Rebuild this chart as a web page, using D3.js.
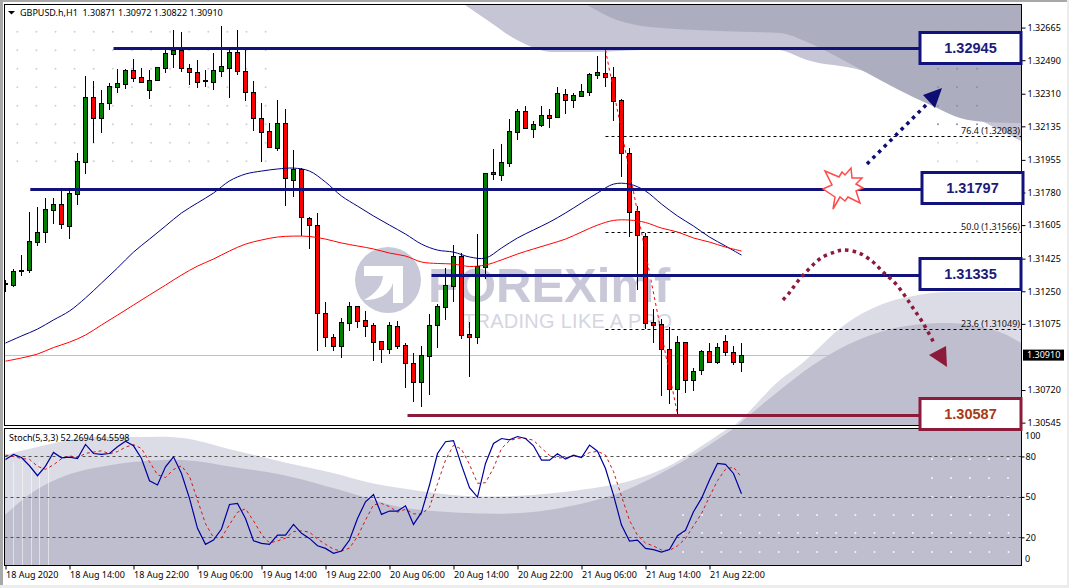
<!DOCTYPE html>
<html>
<head>
<meta charset="utf-8">
<title>GBPUSD H1</title>
<script src="https://cdnjs.cloudflare.com/ajax/libs/d3/7.8.5/d3.min.js"></script>
<style>
  html, body { margin: 0; padding: 0; background: #fff; overflow: hidden; }
  svg { display: block; }
  text { font-family: "Noto Sans", "Liberation Sans", Arial, sans-serif; }
  .wm, .box { font-family: "Liberation Sans", Arial, sans-serif; }
  .pre { white-space: pre; }
</style>
</head>
<body>
<div id="chart"></div>
<script>
// Candle values, one entry per hourly bar
const opens = [1.31287,1.31283,1.31357,1.31362,1.31516,1.31566,1.31688,1.31716,1.31602,1.31774,1.31945,1.32291,1.32178,1.32258,1.32348,1.32364,1.32436,1.32398,1.32332,1.32382,1.32450,1.32525,1.32546,1.32446,1.32425,1.32382,1.32375,1.32434,1.32450,1.32532,1.32430,1.32317,1.32178,1.32108,1.32020,1.32151,1.31849,1.31908,1.31641,1.31604,
  1.31135,1.31003,1.30958,1.31081,1.31169,1.31094,1.31067,1.30981,1.30942,1.31062,1.30960,1.30863,1.30765,1.30904,1.31067,1.31167,1.31280,1.31437,1.31019,1.31006,1.31382,1.31888,1.31876,1.31940,1.32106,1.32215,1.32122,1.32144,1.32194,1.32187,1.32307,1.32278,1.32300,1.32321,1.32412,1.32419,1.32401,1.32274,1.31994,1.31679,
  1.31548,1.31083,1.31072,1.30938,1.30723,1.30976,1.30772,1.30825,1.30927,1.30868,1.30981,1.30922,1.30871];
const highs = [1.31307,1.31367,1.31444,1.31675,1.31702,1.31748,1.31748,1.31797,1.31788,1.31990,1.32405,1.32378,1.32325,1.32366,1.32441,1.32441,1.32495,1.32446,1.32437,1.32452,1.32545,1.32647,1.32636,1.32468,1.32486,1.32437,1.32527,1.32673,1.32541,1.32647,1.32545,1.32373,1.32255,1.32151,1.32271,1.32228,1.32008,1.31908,1.31647,1.31668,
  1.31190,1.31020,1.31106,1.31187,1.31169,1.31142,1.31079,1.30981,1.31083,1.31088,1.30967,1.30917,1.30956,1.31126,1.31180,1.31373,1.31493,1.31453,1.31083,1.31552,1.31883,1.32013,1.32035,1.32172,1.32223,1.32244,1.32162,1.32239,1.32223,1.32344,1.32335,1.32312,1.32357,1.32419,1.32509,1.32545,1.32452,1.32280,1.32017,1.31704,
  1.31561,1.31153,1.31099,1.31058,1.31008,1.30976,1.30833,1.30934,1.30967,1.30967,1.31010,1.30954,1.30972];
const lows = [1.31248,1.31278,1.31332,1.31350,1.31494,1.31511,1.31611,1.31586,1.31532,1.31715,1.31881,1.32046,1.32101,1.32224,1.32319,1.32337,1.32373,1.32368,1.32287,1.32380,1.32423,1.32450,1.32427,1.32357,1.32341,1.32348,1.32335,1.32403,1.32289,1.32412,1.32276,1.32115,1.31944,1.32022,1.32008,1.31709,1.31761,1.31550,1.31482,1.30934,
  1.30951,1.30931,1.30897,1.31042,1.31053,1.31006,1.30877,1.30870,1.30917,1.30945,1.30731,1.30661,1.30634,1.30698,1.30947,1.31101,1.31194,1.30999,1.30790,1.30968,1.31319,1.31852,1.31847,1.31922,1.32065,1.32126,1.32074,1.32133,1.32128,1.32185,1.32206,1.32237,1.32298,1.32303,1.32394,1.32348,1.32165,1.31868,1.31546,1.31257,
  1.31051,1.30974,1.30690,1.30648,1.30589,1.30706,1.30716,1.30804,1.30868,1.30863,1.30904,1.30856,1.30822];
const closes = [1.31292,1.31357,1.31364,1.31518,1.31566,1.31690,1.31716,1.31609,1.31775,1.31947,1.32291,1.32178,1.32258,1.32350,1.32366,1.32436,1.32396,1.32375,1.32382,1.32452,1.32527,1.32546,1.32446,1.32425,1.32375,1.32376,1.32436,1.32457,1.32532,1.32430,1.32317,1.32178,1.32106,1.32026,1.32151,1.31856,1.31908,1.31647,1.31607,1.31135,
  1.31006,1.30958,1.31083,1.31169,1.31092,1.31065,1.30979,1.30942,1.31067,1.30958,1.30863,1.30765,1.30906,1.31067,1.31169,1.31282,1.31437,1.31017,1.31006,1.31385,1.31883,1.31877,1.31942,1.32108,1.32215,1.32128,1.32146,1.32194,1.32181,1.32312,1.32278,1.32301,1.32323,1.32414,1.32425,1.32401,1.32273,1.31994,1.31677,1.31553,
  1.31081,1.31070,1.30938,1.30723,1.30976,1.30772,1.30820,1.30927,1.30868,1.30949,1.30922,1.30868,1.30910];

// Moving averages, read every second bar
const maBars = [0,2,4,6,8,10,12,14,16,18,20,22,24,26,28,30,32,34,36,38,40,42,44,46,48,50,52,54,56,58,60,62,64,66,68,70,72,74,76,78,80,82,84,86,88,90,92];
const maBlue = [1.30972,1.31010,1.31047,1.31096,1.31144,1.31214,1.31294,1.31375,1.31460,1.31530,1.31600,1.31670,1.31724,1.31777,1.31842,1.31879,1.31895,1.31906,1.31911,1.31895,1.31836,1.31761,1.31707,1.31654,1.31605,1.31557,1.31503,1.31471,1.31460,1.31434,1.31428,1.31482,1.31536,1.31579,1.31621,1.31670,1.31724,1.31777,1.31825,1.31825,1.31788,1.31718,1.31654,1.31600,1.31541,1.31493,1.31444];
const maRed = [1.30875,1.30892,1.30913,1.30948,1.30977,1.31015,1.31069,1.31122,1.31176,1.31230,1.31283,1.31337,1.31385,1.31423,1.31466,1.31503,1.31525,1.31541,1.31546,1.31544,1.31530,1.31509,1.31493,1.31477,1.31455,1.31439,1.31407,1.31399,1.31396,1.31383,1.31391,1.31418,1.31450,1.31477,1.31503,1.31530,1.31568,1.31605,1.31630,1.31632,1.31619,1.31589,1.31568,1.31536,1.31514,1.31487,1.31466];

// Stochastic lines
const stochK = [77.8,81.5,79.2,73.1,65.7,72.8,83,79,79.5,78.5,88.9,82.2,81.5,82.2,87.2,91.3,87.9,78.5,62,58.8,72.3,79.7,67.4,48.9,26.7,14.8,18,26.2,44.4,45.2,34,17.5,15.5,14.8,21.7,21.7,29.6,23,19.2,13.8,11.8,8.1,9.9,18,34,46.4,51.8,37,39.5,39.5,
  43.4,29.6,38.5,58.8,82.2,90.9,91.8,73.6,56.8,49.9,74.8,89.6,93.3,92.3,94.8,93.3,87.9,77.3,77.3,82,78,81,79.2,88.4,83.9,71.1,51.3,29.1,17.3,18,11.8,10.9,9.1,10.9,21.2,25.2,39,48.9,62.5,74.8,74.1,67.4,52.27];
const stochD = [81,80,78.5,77.9,72.7,70.5,73.8,78.3,80.5,79,82.3,83.2,84.2,82,83.6,86.9,88.8,85.9,76.1,66.4,64.4,70.3,73.1,65.3,47.7,30.1,19.8,19.7,29.5,38.6,41.2,32.2,22.3,15.9,17.3,19.4,24.3,24.8,23.9,18.7,14.9,11.2,9.9,12,20.6,32.8,44.1,45.1,42.8,38.7,
  40.8,37.5,37.2,42.3,59.8,77.3,88.3,85.4,74.1,60.1,60.5,71.4,85.9,91.7,93.5,93.5,92,86.2,80.8,78.9,79.1,80.3,79.4,82.9,83.8,81.1,68.8,50.5,32.6,21.5,15.7,13.6,10.6,10.3,13.7,19.1,28.5,37.7,50.1,62.1,70.5,72.1,64.56];

// Axis labels
const priceTicks = [1.32665,1.32490,1.32310,1.32135,1.31955,1.31780,1.31605,1.31425,1.31250,1.31075,1.30720,1.30545];
const timeTickBars = [0,8,16,24,32,40,48,56,64,72,80,88];
const timeLabels = ['18 Aug 2020','18 Aug 14:00','18 Aug 22:00','19 Aug 06:00','19 Aug 14:00','19 Aug 22:00','20 Aug 06:00','20 Aug 14:00','20 Aug 22:00','21 Aug 06:00','21 Aug 14:00','21 Aug 22:00'];
const stochLevels = [80,50,20];

// Support and resistance levels drawn on the chart
const levelPrices = [1.32553,1.31797,1.31335,1.30587];
const levelBars = [13.5,3.1,53.25,50.25];
const levelLabels = ['1.32945','1.31797','1.31335','1.30587'];

// Fibonacci retracement
const fibPrices = [1.32083,1.31566,1.31049];
const fibLabels = ['76.4 (1.32083)','50.0 (1.31566)','23.6 (1.31049)'];
const bidPrice = 1.30910;

const width = 1069;
const height = 588;
const panel = { left: 4.5, right: 1021.5, top: 4.5, mid: 425.5, stochTop: 428.5, bottom: 565.5 };
const labelSize = 9;

const x = d3.scaleLinear().domain([0, 92]).range([5.5, 741.5]);
const y = d3.scaleLinear().domain([1.32813, 1.30543]).range([0, 423]);
const yStoch = d3.scaleLinear().domain([100, 0]).range([429.5, 564.3]);
const snap = v => Math.round(v) + 0.5;

const svg = d3.select('#chart').append('svg').attr('width', width).attr('height', height);

// Window frame around the chart
svg.append('rect').attr('width', width).attr('height', height).attr('fill', '#fff');
svg.append('rect').attr('width', width).attr('height', 2).attr('fill', '#a8a8a8');
svg.append('rect').attr('width', 3).attr('height', 585).attr('fill', '#a8a8a8');
svg.append('rect').attr('y', 585).attr('width', width).attr('height', 3).attr('fill', '#ececec');
svg.append('rect').attr('x', 1067).attr('width', 2).attr('height', height).attr('fill', '#ececec');

const defs = svg.append('defs');
defs.append('clipPath').attr('id', 'clipMain').append('rect')
  .attr('x', panel.left).attr('y', panel.top)
  .attr('width', panel.right - panel.left).attr('height', panel.mid - panel.top);
defs.append('clipPath').attr('id', 'clipStoch').append('rect')
  .attr('x', panel.left).attr('y', panel.stochTop)
  .attr('width', panel.right - panel.left).attr('height', panel.bottom - panel.stochTop);

const smooth = d3.line().curve(d3.curveMonotoneX);

// Watermark shapes sit behind the chart, same image shows through both panels
function drawMainBackground(g) {
  const lightTop = [[465,5],[487,20],[517,40],[553,52],[590,52],[640,50],[700,47],[740,47],[780,50],[807,60],[860,70],[900,85],[940,103],[975,118],[1021,141]];
  const darkTop = [[587,5],[617,20],[650,27],[720,31],[780,33],[807,42],[847,62],[880,80],[913,97],[937,108],[960,118],[987,122],[1021,123]];
  const lightLow = [[700,447],[735,425],[780,380],[800,365],[847,323],[880,305],[913,296],[950,292],[1021,292]];
  const darkLow = [[733,429],[780,390],[813,365],[847,345],[880,332],[913,325],[947,323],[980,327],[1007,335],[1021,343]];

  g.append('path').attr('d', smooth(lightTop) + 'L1022,4Z').attr('fill', '#c5c5d6');
  g.append('path').attr('d', smooth(darkTop) + 'L1022,4Z').attr('fill', '#adadc0');
  g.append('path').attr('d', smooth(lightLow) + 'L1022,430L700,430Z').attr('fill', '#dcdce6');
  g.append('path').attr('d', smooth(darkLow) + 'L1022,430L733,430Z').attr('fill', '#bebecf');

  // Dot grid, top left and top right
  const rows = d3.range(8).map(j => 31.7 + 18.5 * j);
  rows.forEach(ry => {
    d3.range(14).forEach(i => {
      g.append('circle').attr('cx', 17.3 + 19.1 * i).attr('cy', ry).attr('r', 1).attr('fill', '#cfcfdc');
    });
    [938, 957, 977].forEach(cx => {
      g.append('circle').attr('cx', cx).attr('cy', ry).attr('r', 1).attr('fill', ry < 125 ? '#8f8fa3' : '#d6d6e0');
    });
  });

  // Broker logo
  g.append('circle').attr('cx', 388).attr('cy', 280).attr('r', 33).attr('fill', '#c8c8d8');
  g.append('path')
    .attr('d', 'M364,266 L403,266 L403,303 L393,303 L393,283 Q388,300 364,300 Q382,290 383,276 L364,276 Z')
    .attr('fill', '#fff');
  g.append('text').attr('class', 'wm').attr('x', 428).attr('y', 302)
    .attr('font-size', 49).attr('font-weight', 'bold').attr('fill', '#c8c8d8')
    .text('FOREXimf');
  g.append('text').attr('class', 'wm').attr('x', 463).attr('y', 328)
    .attr('font-size', 20).attr('textLength', 209).attr('fill', '#d5d5e2')
    .text('TRADING LIKE A PRO');
}

function drawStochBackground(g) {
  const lightEdge = [[5,455],[33,448],[83,438],[133,437],[183,438],[233,450],[283,462],[333,473],[367,482],[400,488],[467,496],[533,495],[600,487],[633,480],[667,467],[700,447],[727,429]];
  const darkEdge = [[5,515],[33,492],[67,475],[100,467],[133,462],[183,460],[233,467],[283,475],[333,488],[367,498],[400,507],[467,513],[533,512],[600,499],[633,487],[667,470],[700,451],[733,429]];
  const lineLinear = d3.line().curve(d3.curveCatmullRom);

  g.append('path').attr('d', lineLinear(lightEdge) + 'L1022,429L1022,566L5,566Z').attr('fill', '#dcdce6');
  g.append('path').attr('d', lineLinear(darkEdge) + 'L1022,429L1022,566L5,566Z').attr('fill', '#bebecf');

  [13.5, 22.5, 31.5, 39.5, 48.5].forEach(sx => {
    g.append('line').attr('x1', sx).attr('x2', sx).attr('y1', 462).attr('y2', 565)
      .attr('stroke', '#fff').attr('stroke-opacity', 0.5);
  });

  // White dots on the dark part
  const lowerCols = d3.range(18).map(i => 683 + 19.15 * i);
  [515, 533, 552].forEach(ry => lowerCols.forEach(cx => {
    g.append('circle').attr('cx', cx).attr('cy', ry).attr('r', 1).attr('fill', '#fff').attr('fill-opacity', 0.85);
  }));
  [459, 478, 497].forEach(ry => d3.range(5).forEach(i => {
    g.append('circle').attr('cx', 932 + 19 * i).attr('cy', ry).attr('r', 1).attr('fill', '#fff').attr('fill-opacity', 0.85);
  }));
}

function drawCandles(g) {
  opens.forEach((open, i) => {
    const cx = x(i);
    const top = snap(y(Math.max(open, closes[i])));
    const bottom = snap(y(Math.min(open, closes[i])));
    g.append('line').attr('x1', cx).attr('x2', cx)
      .attr('y1', Math.floor(y(highs[i]))).attr('y2', Math.ceil(y(lows[i])))
      .attr('stroke', '#000');
    g.append('rect').attr('x', cx - 2).attr('y', top)
      .attr('width', 4).attr('height', Math.max(bottom - top, 1))
      .attr('fill', closes[i] < open ? '#ff0000' : '#007f00')
      .attr('stroke', '#000');
  });
}

function drawMovingAverages(g) {
  const maLine = d3.line().x((d, i) => x(maBars[i])).y(d => y(d)).curve(d3.curveCatmullRom);
  g.append('path').attr('d', maLine(maBlue)).attr('fill', 'none').attr('stroke', '#000080').attr('stroke-width', 1);
  g.append('path').attr('d', maLine(maRed)).attr('fill', 'none').attr('stroke', '#ff0000').attr('stroke-width', 1);
}

function drawLevels(g) {
  // Current bid line
  g.append('line').attr('x1', panel.left).attr('x2', panel.right)
    .attr('y1', snap(y(bidPrice))).attr('y2', snap(y(bidPrice)))
    .attr('stroke', '#c0c0c0');

  // Fibonacci dashed levels and the red trend line
  fibPrices.forEach((p, i) => {
    const fy = snap(y(p));
    g.append('line').attr('x1', x(75)).attr('x2', panel.right).attr('y1', fy).attr('y2', fy)
      .attr('stroke', '#000').attr('stroke-dasharray', '3 3');
    g.append('text').attr('x', 1020).attr('y', fy - 2.5).attr('text-anchor', 'end')
      .attr('font-size', labelSize).attr('fill', '#111').text(fibLabels[i]);
  });
}

function drawTrendLine(g) {
  g.append('line').attr('x1', x(75)).attr('y1', y(highs[75])).attr('x2', x(84)).attr('y2', y(lows[84]))
    .attr('stroke', '#ff0000').attr('stroke-dasharray', '3 3');
}

function drawLevelBoxes(g) {
  const navy = '#12127c';
  const maroon = '#8c1a3a';
  const boxX = [920, 922, 920, 920];
  const boxY = [32.5, 172.5, 258.5, 398.5];
  levelPrices.forEach((p, i) => {
    const isSupport = i === 3;
    const colour = isSupport ? maroon : navy;
    const ly = snap(y(p));
    g.append('line').attr('x1', x(levelBars[i])).attr('x2', boxX[i]).attr('y1', ly).attr('y2', ly)
      .attr('stroke', colour).attr('stroke-width', 3);
    g.append('rect').attr('x', boxX[i]).attr('y', boxY[i]).attr('width', 101).attr('height', 31)
      .attr('fill', '#fff').attr('stroke', colour).attr('stroke-width', 3);
    g.append('text').attr('class', 'box').attr('x', boxX[i] + 50.5).attr('y', boxY[i] + 20.5).attr('text-anchor', 'middle')
      .attr('font-size', 14.5).attr('font-weight', 'bold')
      .attr('fill', isSupport ? '#a83a14' : '#1b1b78').text(levelLabels[i]);
  });
}

function drawAnnotations(g) {
  const navy = '#0d0d73';
  const maroon = '#8c1a3a';

  // Dotted blue arrow going up
  g.append('line').attr('x1', 867).attr('y1', 164).attr('x2', 926).attr('y2', 105)
    .attr('stroke', navy).attr('stroke-width', 3.5).attr('stroke-dasharray', '3.5 4.5');
  g.append('path').attr('d', 'M942,88 L923,95 L935,108 Z').attr('fill', navy);

  // Burst where price meets the level
  const burst = [[825,171],[839,177],[842,172],[845,175],[851,168],[852,178],[862,178],[856,184],[863,188],[856,191],[860,203],[848,197],[845,201],[840,197],[833,209],[835,197],[823,189],[832,185]];
  g.append('path').attr('d', d3.line()(burst) + 'Z')
    .attr('fill', '#fff').attr('stroke', '#ff4b4b').attr('stroke-width', 1.5);

  // Dotted maroon arc with its arrow
  const arc = [[783,300],[790,292],[798,281],[809,269],[821,258],[835,252],[843,250],[859,253],[873,262],[883,272],[895,283],[905,296],[913,308],[923,323],[934,343]];
  g.append('path').attr('d', d3.line().curve(d3.curveCatmullRom)(arc)).attr('fill', 'none')
    .attr('stroke', maroon).attr('stroke-width', 3.5).attr('stroke-dasharray', '3.5 4');
  g.append('path').attr('d', 'M946,346 L929,355 L947,367 Z').attr('fill', maroon);
}

function drawStochLines(g) {
  stochLevels.forEach(v => {
    g.append('line').attr('x1', panel.left).attr('x2', panel.right)
      .attr('y1', snap(yStoch(v))).attr('y2', snap(yStoch(v)))
      .attr('stroke', '#505050').attr('stroke-dasharray', '3 3');
  });
  const lineK = d3.line().x((d, i) => x(i)).y(d => yStoch(d));
  g.append('path').attr('d', lineK(stochD)).attr('fill', 'none').attr('stroke', '#d01818').attr('stroke-dasharray', '3 3');
  g.append('path').attr('d', lineK(stochK)).attr('fill', 'none').attr('stroke', '#0000a0').attr('stroke-width', 1.2);
}

function styleAxisText(axis) {
  axis.selectAll('text').attr('font-size', labelSize).attr('font-family', '"Noto Sans", "Liberation Sans", sans-serif').attr('fill', '#000');
}

function drawAxes() {
  // Price axis on the right
  const priceAxis = svg.append('g').attr('transform', `translate(${panel.right},0)`)
    .call(d3.axisRight(y).tickValues(priceTicks).tickFormat(d3.format('.5f')).tickSize(4).tickPadding(2));
  priceAxis.select('.domain').remove();
  styleAxisText(priceAxis);

  // Bid marker on the price axis
  const by = y(bidPrice);
  svg.append('rect').attr('x', 1023).attr('y', by - 5).attr('width', 41).attr('height', 11).attr('fill', '#000');
  svg.append('text').attr('x', 1027).attr('y', by + 3.5).attr('font-size', labelSize).attr('fill', '#fff').text(d3.format('.5f')(bidPrice));

  // Stochastic axis
  const stochAxis = svg.append('g').attr('transform', `translate(${panel.right},0)`)
    .call(d3.axisRight(yStoch).tickValues(stochLevels).tickSize(3).tickPadding(1));
  stochAxis.select('.domain').remove();
  styleAxisText(stochAxis);
  svg.append('text').attr('x', 1025).attr('y', 438.5).attr('font-size', labelSize).text('100');
  svg.append('text').attr('x', 1025).attr('y', 561.5).attr('font-size', labelSize).text('0');

  // Time axis under the lower panel
  const timeAxis = svg.append('g').attr('transform', `translate(0,${panel.bottom})`)
    .call(d3.axisBottom(x).tickValues(timeTickBars).tickFormat((d, i) => timeLabels[i]).tickSize(4).tickPadding(2));
  timeAxis.select('.domain').remove();
  styleAxisText(timeAxis);
  timeAxis.selectAll('text').attr('text-anchor', 'start').attr('dx', 0);
}

// Panels: clipped groups, drawn back to front
const mainG = svg.append('g').attr('clip-path', 'url(#clipMain)');
const stochG = svg.append('g').attr('clip-path', 'url(#clipStoch)');
drawMainBackground(mainG);
drawStochBackground(stochG);
drawLevels(mainG);
drawCandles(mainG);
drawMovingAverages(mainG);
drawTrendLine(mainG);
drawStochLines(stochG);

// Panel borders
[[panel.top, panel.mid], [panel.stochTop, panel.bottom]].forEach(([t, b]) => {
  svg.append('rect').attr('x', panel.left).attr('y', t)
    .attr('width', panel.right - panel.left).attr('height', b - t)
    .attr('fill', 'none').attr('stroke', '#000');
});

drawAxes();
drawLevelBoxes(svg);
drawAnnotations(svg);

// Header texts
svg.append('path').attr('d', 'M8,11 L15,11 L11.5,14.5 Z').attr('fill', '#000');
svg.append('text').attr('class', 'pre').attr('x', 20).attr('y', 16).attr('font-size', labelSize).attr('fill', '#000')
  .text('GBPUSD.h,H1  1.30871 1.30972 1.30822 1.30910');
svg.append('text').attr('x', 9).attr('y', 441).attr('font-size', labelSize).attr('fill', '#000')
  .text('Stoch(5,3,3) 52.2694 64.5598');
</script>
</body>
</html>
